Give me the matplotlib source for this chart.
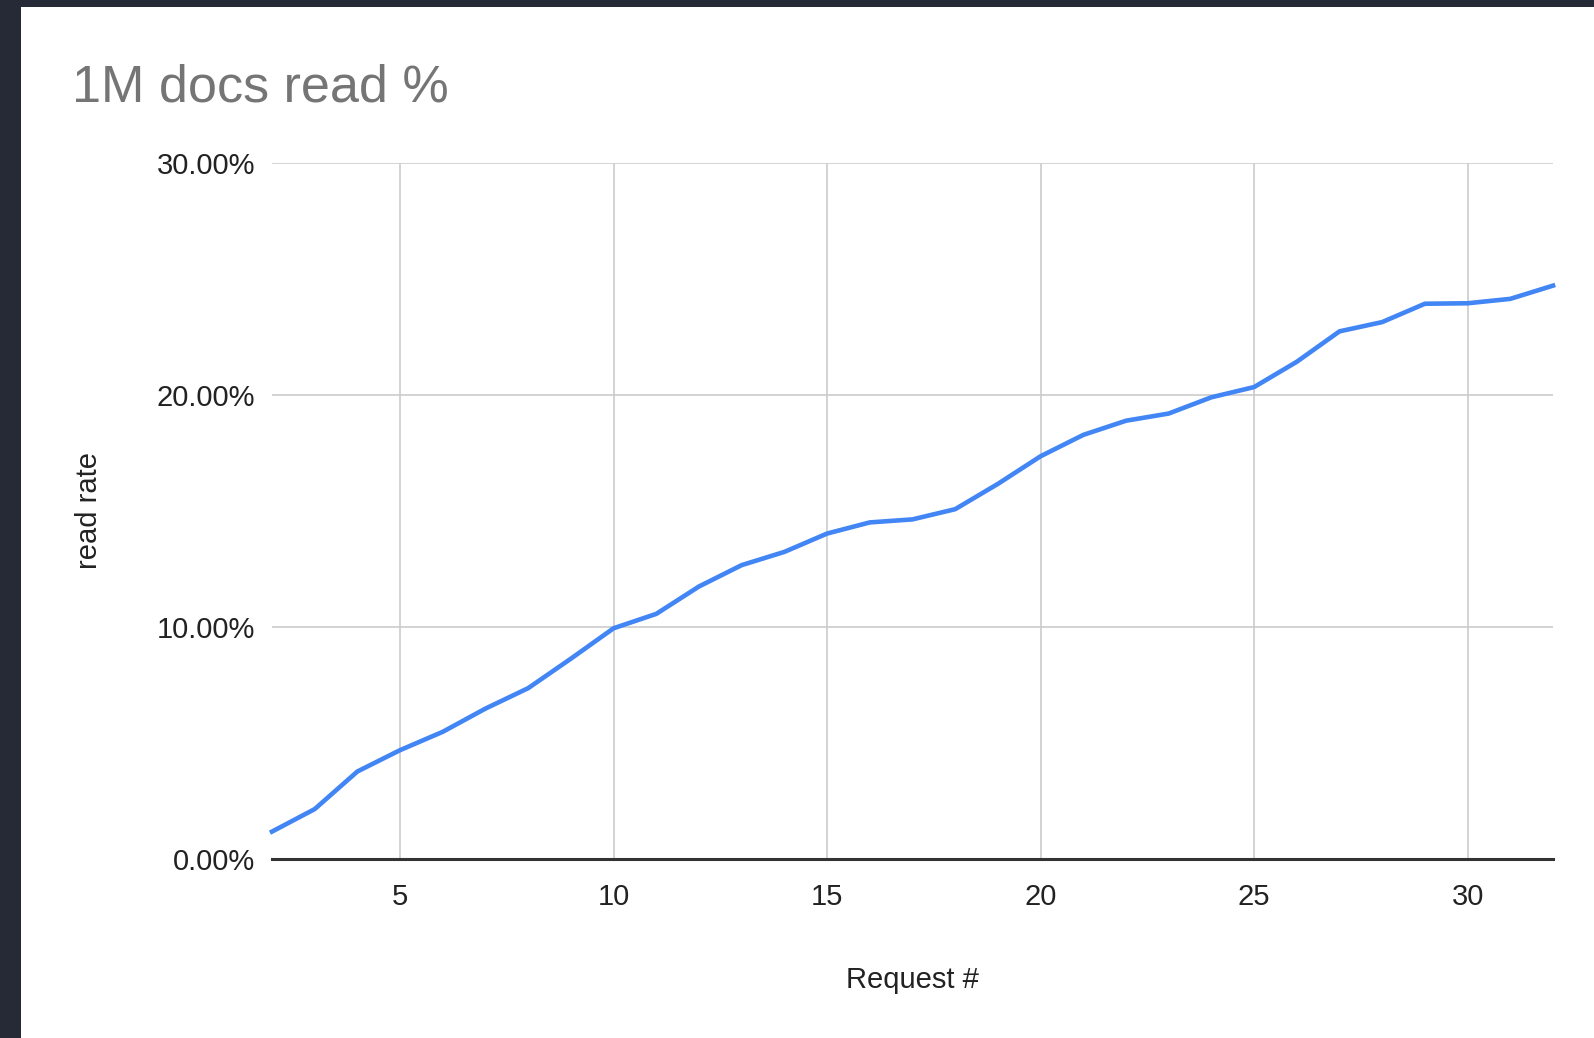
import matplotlib.pyplot as plt
from matplotlib.ticker import FuncFormatter

plt.rcParams['font.family'] = ['Liberation Sans', 'DejaVu Sans']

# request number vs read rate (%)
requests = list(range(2, 33))
read_rate = [1.18, 2.15, 3.77, 4.69, 5.48, 6.48, 7.36, 8.63, 9.94, 10.56,
             11.74, 12.66, 13.23, 14.02, 14.50, 14.63, 15.07, 16.16, 17.35, 18.27,
             18.88, 19.19, 19.89, 20.33, 21.42, 22.73, 23.13, 23.92, 23.94, 24.13,
             24.70]
x_ticks = [5, 10, 15, 20, 25, 30]
y_ticks = [0, 10, 20, 30]

W, H = 1594, 1038
fig = plt.figure(figsize=(W / 100, H / 100), dpi=100)
fig.patch.set_facecolor('#262a36')

# white card, dark frame on left and top
card = plt.Rectangle((21 / W, 0), 1, 1 - 7 / H, transform=fig.transFigure,
                     facecolor='white', edgecolor='none', zorder=-10)
fig.add_artist(card)

ax = fig.add_axes([272 / W, 1 - 859 / H, (1553 - 272) / W, (859 - 162.6) / H])
ax.set_facecolor('white')
ax.set_zorder(1)

ax.plot(requests, read_rate, color='#4285F4', lw=3.3, solid_joinstyle='round',
        clip_on=False, zorder=3)

ax.set_xlim(2, 32)
ax.set_ylim(0, 30)
ax.set_xticks(x_ticks)
ax.set_yticks(y_ticks)
ax.yaxis.set_major_formatter(FuncFormatter(lambda v, p: f"{v:.2f}%"))

ax.grid(True, color='#cccccc', lw=1.2)
ax.set_axisbelow(True)
for s in ['top', 'right', 'left']:
    ax.spines[s].set_visible(False)
ax.spines['bottom'].set_color('#333333')
ax.spines['bottom'].set_linewidth(2.2)
ax.spines['bottom'].set_zorder(4)

ax.tick_params(axis='both', length=0, labelsize=21, colors='#222222')
ax.tick_params(axis='x', pad=17)
ax.tick_params(axis='y', pad=12)

ax.set_xlabel('Request #', fontsize=21, color='#222222', labelpad=40)
ax.set_ylabel('read rate', fontsize=21, color='#222222', labelpad=39)

fig.text(72 / W, 1 - 102 / H, '1M docs read %', fontsize=37.5, color='#757575',
         ha='left', va='baseline')

fig.savefig('out.png', dpi=100, facecolor=fig.get_facecolor())
